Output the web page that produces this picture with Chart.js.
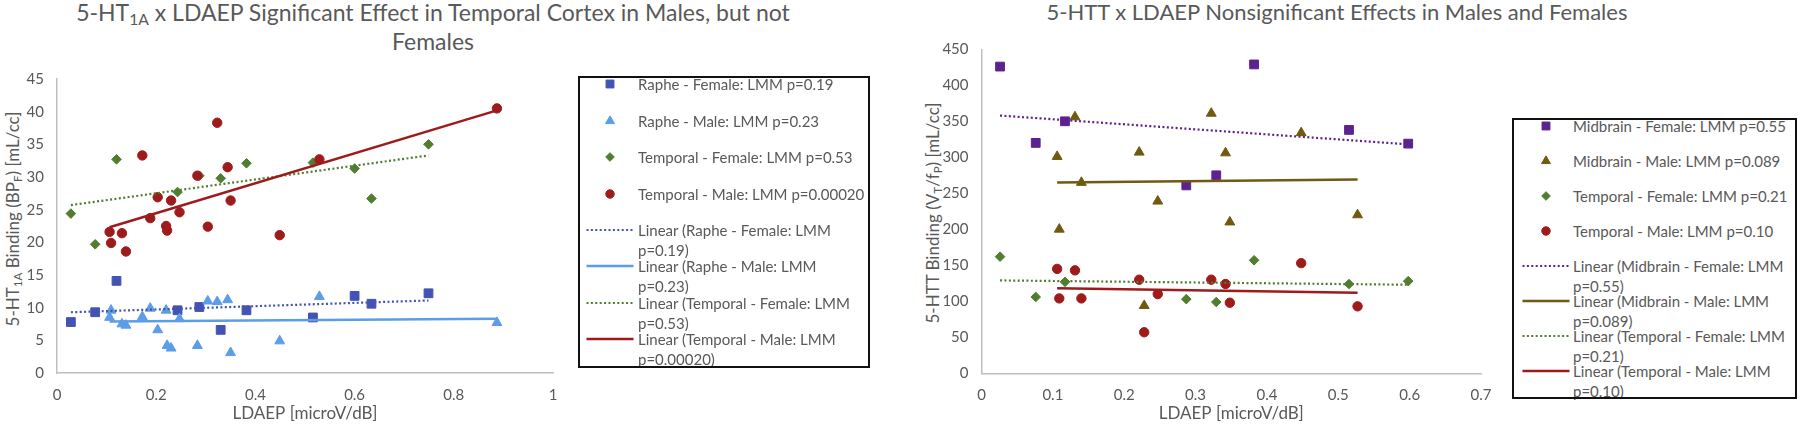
<!DOCTYPE html>
<html><head><meta charset="utf-8">
<script src="https://cdn.jsdelivr.net/npm/chart.js@4.4.1/dist/chart.umd.min.js"></script>
<style>
html,body{margin:0;padding:0;background:#fff}
body{width:1800px;height:432px;position:relative;overflow:hidden;font-family:Lato,"Open Sans",sans-serif;color:#595959}
canvas.chart{position:absolute;top:0}
.title{position:absolute;line-height:29px;text-align:center;white-space:nowrap;transform:translateX(-50%)}
.ytitle{position:absolute;font-size:17px;line-height:20px;white-space:nowrap;transform:translate(-50%,-50%) rotate(-90deg)}
sub{font-size:0.68em;line-height:0;vertical-align:-0.28em}
.legbox{position:absolute;border:2px solid #111;box-sizing:border-box;z-index:3}
.legtext{position:absolute;font-size:15px;line-height:20px;white-space:nowrap;color:#595959}
.legmark{position:absolute}
</style></head><body>
<div class="title" style="left:433px;top:-2px;font-size:23px">5-HT<sub>1A</sub> x LDAEP Significant Effect in Temporal Cortex in Males, but not<br>Females</div>
<div class="title" style="left:1337px;top:-3px;font-size:22px">5-HTT x LDAEP Nonsignificant Effects in Males and Females</div>
<div class="ytitle" style="left:13px;top:219px">5-HT<sub>1A</sub> Binding (BP<sub>F</sub>) [mL/cc]</div>
<div class="ytitle" style="left:933px;top:213px">5-HTT Binding (V<sub>T</sub>/f<sub>P</sub>) [mL/cc]</div>
<canvas id="c1" class="chart" width="600" height="432" style="left:0px"></canvas>
<canvas id="c2" class="chart" width="610" height="432" style="left:900px"></canvas>
<script>
// ---------------- shared ----------------
const xAxisTitle = 'LDAEP [microV/dB]';

// ---------------- left chart: 5-HT1A ----------------
const lXTicks = [0, 0.2, 0.4, 0.6, 0.8, 1];
const lYTicks = [0, 5, 10, 15, 20, 25, 30, 35, 40, 45];
const lSeriesLabels = ['Raphe - Female: LMM p=0.19', 'Raphe - Male: LMM p=0.23', 'Temporal - Female: LMM p=0.53', 'Temporal - Male: LMM p=0.00020'];
const lFemaleX = [0.028, 0.077, 0.12, 0.243, 0.287, 0.33, 0.382, 0.516, 0.6, 0.634, 0.749];
const lRapheFemaleY = [7.8, 9.3, 14.1, 9.6, 10.1, 6.6, 9.6, 8.5, 11.8, 10.6, 12.2];
const lTemporalFemaleY = [24.4, 19.7, 32.7, 27.7, 30.2, 29.8, 32.1, 32.2, 31.3, 26.7, 35.0];
const lMaleX = [0.106, 0.109, 0.131, 0.139, 0.172, 0.188, 0.203, 0.22, 0.222, 0.23, 0.247, 0.283, 0.304, 0.323, 0.344, 0.35, 0.449, 0.529, 0.887];
const lRapheMaleY = [8.5, 9.6, 7.5, 7.3, 8.6, 9.9, 6.6, 9.6, 4.2, 3.8, 8.3, 4.2, 11.0, 10.9, 11.2, 3.1, 4.9, 11.7, 7.7];
const lTemporalMaleY = [21.6, 19.9, 21.4, 18.6, 33.3, 23.7, 26.9, 22.5, 21.8, 26.4, 24.6, 30.2, 22.4, 38.3, 31.5, 26.4, 21.1, 32.7, 40.5];
// trend line end values, at the first and last x of each series
const lRapheFemaleTrend = [9.3, 11.1];
const lRapheMaleTrend = [7.9, 8.3];
const lTemporalFemaleTrend = [25.7, 33.3];
const lTemporalMaleTrend = [22.3, 40.2];

// ---------------- right chart: 5-HTT ----------------
const rXTicks = [0, 0.1, 0.2, 0.3, 0.4, 0.5, 0.6, 0.7];
const rYTicks = [0, 50, 100, 150, 200, 250, 300, 350, 400, 450];
const rSeriesLabels = ['Midbrain - Female: LMM p=0.55', 'Midbrain - Male: LMM p=0.089', 'Temporal - Female: LMM p=0.21', 'Temporal - Male: LMM p=0.10'];
const rFemaleX = [0.026, 0.076, 0.117, 0.287, 0.329, 0.382, 0.515, 0.598];
const rMidbrainFemaleY = [426, 320, 350, 261, 275, 429, 338, 319];
const rTemporalFemaleY = [162, 106, 127, 103, 99, 157, 124, 128];
const rMaleX = [0.106, 0.109, 0.131, 0.140, 0.221, 0.228, 0.247, 0.322, 0.342, 0.348, 0.448, 0.527];
const rMidbrainMaleY = [301, 200, 356, 265, 307, 94, 239, 361, 306, 210, 334, 220];
const rTemporalMaleY = [145, 104, 143, 104, 130, 57, 110, 130, 124, 98, 153, 93];
const rMidbrainFemaleTrend = [358, 318];
const rMidbrainMaleTrend = [265, 269];
const rTemporalFemaleTrend = [129, 123];
const rTemporalMaleTrend = [118, 112];

// ---------------- colours ----------------
const cRapheF = '#4353B3', cRapheM = '#5B9DE6', cGreen = '#507D2E', cRed = '#9E1B1B';
const cMidF = '#5C2390', cMidM = '#705A10';
const DOT = [2, 2.4];

function pts(xs, ys) { return xs.map((x, i) => ({x: x, y: ys[i]})); }
function ends(xs, t) { return pts([Math.min(...xs), Math.max(...xs)], t); }
function markerDs(label, xs, ys, style, color, r, order) {
  return {label: label, data: pts(xs, ys), showLine: false, pointStyle: style, pointRadius: r, pointHoverRadius: r,
    backgroundColor: color, borderColor: color, pointBorderWidth: 1, order: order};
}
function trendDs(label, xs, t, color, dash, order) {
  return {label: 'Linear (' + label + ')', data: ends(xs, t), showLine: true, borderColor: color, backgroundColor: color,
    borderWidth: dash.length ? 2.2 : 2.5, borderDash: dash, pointRadius: 0, pointHoverRadius: 0, fill: false, order: order};
}

function makeOptions(cfg) {
  const tickFont = {family: 'Lato', size: 15};
  return {
    responsive: false, animation: false, devicePixelRatio: 1, events: [],
    layout: {padding: {top: cfg.top, right: cfg.right, left: 0, bottom: 0}},
    plugins: {legend: {display: false}, tooltip: {enabled: false}, title: {display: false}},
    scales: {
      x: {type: 'linear', min: cfg.xTicks[0], max: cfg.xTicks[cfg.xTicks.length - 1],
        afterBuildTicks: s => { s.ticks = cfg.xTicks.map(v => ({value: v})); },
        afterFit: s => { s.height = cfg.xAxisH; },
        grid: {display: false, drawTicks: false},
        border: {display: true, color: '#BFBFBF', width: 1.5},
        ticks: {color: '#595959', font: tickFont, padding: 13, maxRotation: 0, autoSkip: false, callback: v => String(v)},
        title: {display: true, text: xAxisTitle, color: '#595959', font: {family: 'Lato', size: 17}, padding: {top: 0, bottom: 8}}},
      y: {type: 'linear', min: cfg.yTicks[0], max: cfg.yTicks[cfg.yTicks.length - 1],
        afterBuildTicks: s => { s.ticks = cfg.yTicks.map(v => ({value: v})); },
        afterFit: s => { s.width = cfg.yAxisW; },
        grid: {display: false, drawTicks: false},
        border: {display: true, color: '#BFBFBF', width: 1.5},
        ticks: {color: '#595959', font: tickFont, padding: 13, autoSkip: false, callback: v => String(v)}}
    }
  };
}

const chart1 = new Chart(document.getElementById('c1'), {
  type: 'scatter',
  data: {datasets: [
    markerDs(lSeriesLabels[0], lFemaleX, lRapheFemaleY, 'rect', cRapheF, 6.2, 7),
    markerDs(lSeriesLabels[1], lMaleX, lRapheMaleY, 'triangle', cRapheM, 5.7, 6),
    markerDs(lSeriesLabels[2], lFemaleX, lTemporalFemaleY, 'rectRot', cGreen, 4.8, 5),
    markerDs(lSeriesLabels[3], lMaleX, lTemporalMaleY, 'circle', cRed, 4.7, 4),
    trendDs(lSeriesLabels[0], lFemaleX, lRapheFemaleTrend, cRapheF, DOT, 3),
    trendDs(lSeriesLabels[1], lMaleX, lRapheMaleTrend, cRapheM, [], 2),
    trendDs(lSeriesLabels[2], lFemaleX, lTemporalFemaleTrend, cGreen, DOT, 1),
    trendDs(lSeriesLabels[3], lMaleX, lTemporalMaleTrend, cRed, [], 0)
  ]},
  options: makeOptions({top: 79, right: 47, xAxisH: 59, yAxisW: 57, xTicks: lXTicks, yTicks: lYTicks})
});

const chart2 = new Chart(document.getElementById('c2'), {
  type: 'scatter',
  data: {datasets: [
    markerDs(rSeriesLabels[0], rFemaleX, rMidbrainFemaleY, 'rect', cMidF, 6.2, 7),
    markerDs(rSeriesLabels[1], rMaleX, rMidbrainMaleY, 'triangle', cMidM, 5.7, 6),
    markerDs(rSeriesLabels[2], rFemaleX, rTemporalFemaleY, 'rectRot', cGreen, 4.8, 5),
    markerDs(rSeriesLabels[3], rMaleX, rTemporalMaleY, 'circle', cRed, 4.7, 4),
    trendDs(rSeriesLabels[0], rFemaleX, rMidbrainFemaleTrend, cMidF, DOT, 3),
    trendDs(rSeriesLabels[1], rMaleX, rMidbrainMaleTrend, cMidM, [], 2),
    trendDs(rSeriesLabels[2], rFemaleX, rTemporalFemaleTrend, cGreen, DOT, 1),
    trendDs(rSeriesLabels[3], rMaleX, rTemporalMaleTrend, cRed, [], 0)
  ]},
  options: makeOptions({top: 49.3, right: 29, xAxisH: 58.7, yAxisW: 81.5, xTicks: rXTicks, yTicks: rYTicks})
});

// ---------------- HTML legends built from the chart datasets ----------------
function swatch(d) {
  const c = document.createElement('canvas');
  c.width = 50; c.height = 20; c.className = 'legmark';
  const ctx = c.getContext('2d');
  if (d.showLine) {
    ctx.strokeStyle = d.borderColor; ctx.lineWidth = d.borderWidth;
    ctx.setLineDash(d.borderDash || []);
    ctx.beginPath(); ctx.moveTo(1.5, 10); ctx.lineTo(48.5, 10); ctx.stroke();
  } else {
    ctx.fillStyle = d.backgroundColor; ctx.strokeStyle = d.borderColor; ctx.lineWidth = d.pointBorderWidth;
    Chart.helpers.drawPoint(ctx, {pointStyle: d.pointStyle, radius: d.pointRadius * 0.9, borderWidth: d.pointBorderWidth, rotation: 0}, 25, 10);
  }
  return c;
}
function buildLegend(chart, L) {
  const box = document.createElement('div');
  box.className = 'legbox';
  Object.assign(box.style, {left: L.boxL + 'px', top: L.boxT + 'px', width: L.boxW + 'px', height: L.boxH + 'px'});
  document.body.appendChild(box);
  chart.data.datasets.forEach((d, i) => {
    const cy = L.firstY + i * L.step;
    const sw = swatch(d);
    sw.style.left = (L.markX - 25) + 'px'; sw.style.top = (cy - 10) + 'px';
    document.body.appendChild(sw);
    const t = document.createElement('div');
    t.className = 'legtext';
    t.style.left = L.textX + 'px'; t.style.top = (cy - 10) + 'px';
    const k = d.showLine ? d.label.lastIndexOf(' p=') : -1;
    if (k > 0) {
      t.appendChild(document.createTextNode(d.label.slice(0, k)));
      t.appendChild(document.createElement('br'));
      t.appendChild(document.createTextNode(d.label.slice(k + 1)));
    } else {
      t.textContent = d.label;
    }
    document.body.appendChild(t);
  });
}
buildLegend(chart1, {boxL: 578, boxT: 76, boxW: 292, boxH: 292, firstY: 84.3, step: 36.43, markX: 609.5, textX: 638});
buildLegend(chart2, {boxL: 1512, boxT: 118, boxW: 285, boxH: 281, firstY: 125.7, step: 35.05, markX: 1545.5, textX: 1573});
</script>
</body></html>
